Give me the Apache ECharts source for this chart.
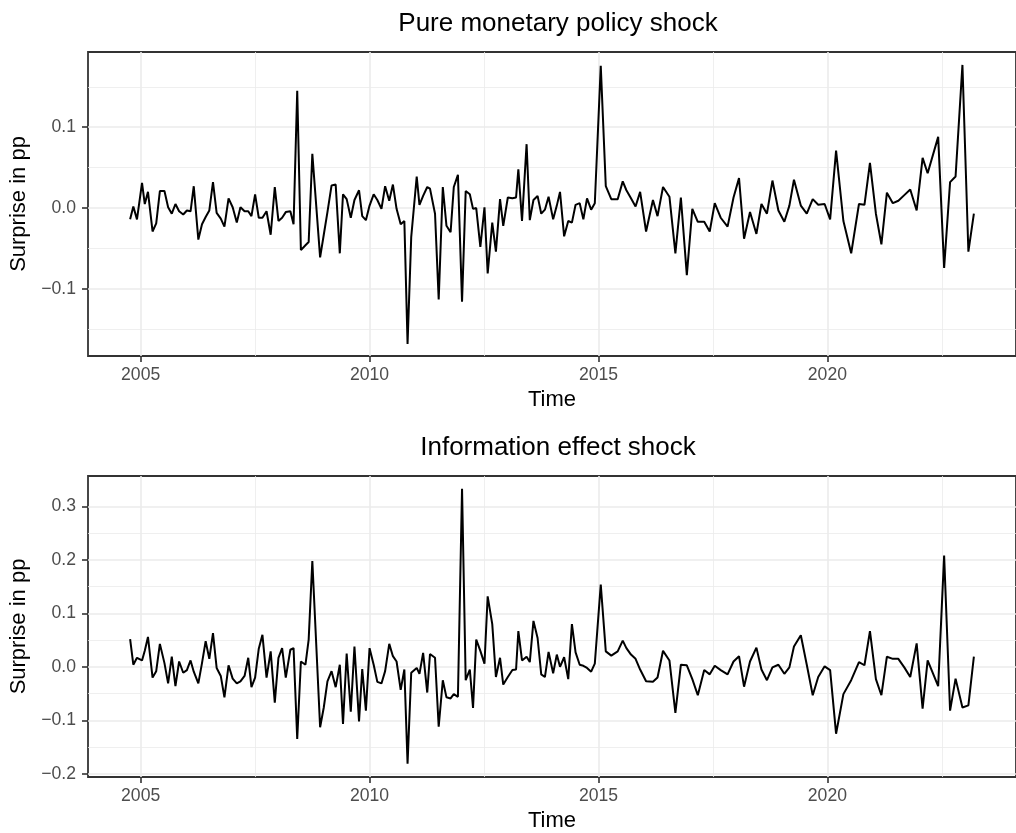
<!DOCTYPE html>
<html>
<head>
<meta charset="utf-8">
<title>Monetary policy shocks</title>
<script src="https://cdn.jsdelivr.net/npm/echarts@6/dist/echarts.min.js"></script>
<style>
  html, body { margin: 0; padding: 0; background: #fff; }
  #chart { width: 1016px; height: 833px; }
</style>
</head>
<body>
<div id="chart"></div>
<script>
// meeting dates as decimal years, shared by both panels
const dates = [
  2004.77, 2004.84, 2004.92, 2005.03, 2005.09, 2005.16, 2005.26, 2005.34, 2005.42, 2005.52, 2005.60, 2005.68,
  2005.76, 2005.84, 2005.93, 2006.01, 2006.09, 2006.16, 2006.26, 2006.34, 2006.42, 2006.50, 2006.58, 2006.66,
  2006.75, 2006.83, 2006.92, 2007.01, 2007.10, 2007.18, 2007.27, 2007.35, 2007.42, 2007.50, 2007.58, 2007.66,
  2007.75, 2007.84, 2007.93, 2008.01, 2008.09, 2008.17, 2008.27, 2008.34, 2008.42, 2008.50, 2008.60, 2008.67,
  2008.75, 2008.92, 2009.00, 2009.08, 2009.17, 2009.26, 2009.35, 2009.42, 2009.50, 2009.59, 2009.67, 2009.77,
  2009.84, 2009.92, 2010.00, 2010.09, 2010.17, 2010.26, 2010.34, 2010.43, 2010.51,
  2010.59, 2010.68, 2010.76, 2010.83, 2010.91,
  2011.03, 2011.09, 2011.17, 2011.26, 2011.32, 2011.43, 2011.51, 2011.60, 2011.68, 2011.77, 2011.84, 2011.93,
  2012.02, 2012.10, 2012.19, 2012.26, 2012.33, 2012.42, 2012.51, 2012.58, 2012.68, 2012.76, 2012.85, 2012.92,
  2013.02, 2013.12, 2013.20, 2013.25, 2013.33, 2013.43, 2013.50, 2013.58, 2013.67, 2013.75, 2013.83, 2013.91,
  2014.01, 2014.09, 2014.16, 2014.25, 2014.34, 2014.42, 2014.50, 2014.59, 2014.67, 2014.75, 2014.84, 2014.92,
  2015.05, 2015.16, 2015.28, 2015.42, 2015.53, 2015.61, 2015.71, 2015.81, 2015.91,
  2016.04, 2016.19, 2016.29, 2016.41, 2016.55, 2016.68, 2016.80, 2016.93,
  2017.05, 2017.17, 2017.31, 2017.43, 2017.54, 2017.67, 2017.82, 2017.95,
  2018.07, 2018.18, 2018.31, 2018.45, 2018.56, 2018.68, 2018.80, 2018.93,
  2019.06, 2019.17, 2019.27, 2019.42, 2019.55, 2019.68, 2019.80, 2019.94,
  2020.06, 2020.19, 2020.35, 2020.52, 2020.69, 2020.81, 2020.93,
  2021.06, 2021.18, 2021.30, 2021.43, 2021.55, 2021.68, 2021.81, 2021.95,
  2022.08, 2022.19, 2022.42, 2022.55, 2022.68, 2022.80, 2022.95,
  2023.08, 2023.20
]

const pureShock = [
  -0.014, 0.002, -0.014, 0.031, 0.005, 0.020, -0.029, -0.019, 0.021, 0.021, 0.001, -0.007,
  0.005, -0.004, -0.008, -0.003, -0.004, 0.027, -0.039, -0.020, -0.011, -0.003, 0.032, -0.006,
  -0.013, -0.023, 0.012, 0.001, -0.018, 0.001, -0.004, -0.004, -0.010, 0.017, -0.012, -0.012,
  -0.004, -0.033, 0.026, -0.016, -0.012, -0.005, -0.004, -0.020, 0.145, -0.052, -0.046, -0.042,
  0.067, -0.061, -0.033, -0.005, 0.028, 0.029, -0.056, 0.017, 0.011, -0.012, 0.010, 0.022,
  -0.010, -0.015, 0.003, 0.017, 0.010, -0.001, 0.027, 0.009, 0.029,
  -0.001, -0.020, -0.016, -0.168, -0.036,
  0.039, 0.004, 0.015, 0.026, 0.024, -0.007, -0.113, 0.026, -0.022, -0.030, 0.026, 0.041,
  -0.116, 0.021, 0.017, -0.001, 0.000, -0.048, 0.001, -0.081, -0.018, -0.054, 0.011, -0.022,
  0.013, 0.012, 0.013, 0.048, -0.016, 0.079, -0.015, 0.010, 0.015, -0.007, -0.002, 0.014,
  -0.014, 0.003, 0.020, -0.035, -0.016, -0.018, 0.004, 0.006, -0.014, 0.012, -0.002, 0.006,
  0.176, 0.027, 0.011, 0.011, 0.033, 0.022, 0.012, 0.002, 0.020,
  -0.029, 0.010, -0.010, 0.026, 0.014, -0.056, 0.013, -0.083,
  -0.001, -0.017, -0.017, -0.029, 0.006, -0.012, -0.023, 0.013,
  0.037, -0.038, -0.005, -0.032, 0.005, -0.007, 0.034, -0.003,
  -0.017, 0.003, 0.035, 0.003, -0.007, 0.011, 0.004, 0.005,
  -0.014, 0.071, -0.016, -0.056, 0.005, 0.004, 0.056,
  -0.007, -0.045, 0.019, 0.006, 0.009, 0.016, 0.023, -0.003,
  0.062, 0.043, 0.088, -0.074, 0.032, 0.039, 0.177,
  -0.054, -0.007
]

const infoShock = [
  0.052, 0.004, 0.017, 0.012, 0.030, 0.056, -0.020, -0.008, 0.043, 0.007, -0.031, 0.019,
  -0.036, 0.010, -0.011, -0.006, 0.012, -0.009, -0.031, 0.007, 0.048, 0.015, 0.063, -0.002,
  -0.017, -0.057, 0.003, -0.022, -0.031, -0.027, -0.017, 0.017, -0.038, -0.020, 0.034, 0.060,
  -0.020, 0.029, -0.067, 0.017, 0.035, -0.020, 0.032, 0.035, -0.135, 0.010, 0.004, 0.051,
  0.198, -0.113, -0.076, -0.027, -0.008, -0.038, 0.004, -0.107, 0.025, -0.084, 0.038, -0.102,
  -0.004, -0.082, 0.035, 0.004, -0.028, -0.031, -0.008, 0.043, 0.020,
  0.010, -0.043, -0.005, -0.181, -0.011,
  -0.002, -0.013, 0.026, -0.048, 0.024, 0.017, -0.112, -0.025, -0.057, -0.059, -0.051, -0.056,
  0.333, -0.025, -0.005, -0.077, 0.051, 0.030, 0.006, 0.132, 0.080, -0.019, 0.017, -0.033,
  -0.019, -0.006, -0.005, 0.067, 0.012, 0.019, 0.009, 0.086, 0.054, -0.014, -0.019, 0.028,
  -0.012, 0.023, 0.000, 0.018, -0.023, 0.080, 0.027, 0.004, 0.002, -0.002, -0.009, 0.006,
  0.154, 0.029, 0.021, 0.029, 0.049, 0.035, 0.023, 0.015, -0.005,
  -0.027, -0.028, -0.020, 0.030, 0.012, -0.086, 0.004, 0.003,
  -0.023, -0.053, -0.006, -0.014, 0.002, -0.006, -0.014, 0.010,
  0.020, -0.037, 0.010, 0.036, -0.005, -0.025, -0.001, 0.004,
  -0.013, -0.001, 0.038, 0.059, 0.004, -0.053, -0.019, 0.001,
  -0.006, -0.125, -0.051, -0.025, 0.009, 0.003, 0.067,
  -0.023, -0.053, 0.019, 0.015, 0.015, -0.001, -0.019, 0.044,
  -0.078, 0.012, -0.036, 0.208, -0.082, -0.022, -0.076,
  -0.072, 0.019
]

const xTicks = [2005, 2010, 2015, 2020]
const xMinorTicks = [2007.5, 2012.5, 2017.5, 2022.5]
const pureTicks = [-0.1, 0, 0.1]
const pureMinorTicks = [-0.15, -0.05, 0.05, 0.15]
const infoTicks = [-0.2, -0.1, 0, 0.1, 0.2, 0.3]
const infoMinorTicks = [-0.15, -0.05, 0.05, 0.15, 0.25]

const FONT = '"Liberation Sans", Arial, Helvetica, sans-serif'
const X_MIN = 2003.85
const X_MAX = 2024.12

const panels = [
  { title: 'Pure monetary policy shock', values: pureShock, top: 52, yMin: -0.183, yMax: 0.193, ticks: pureTicks, minor: pureMinorTicks },
  { title: 'Information effect shock', values: infoShock, top: 476, yMin: -0.206, yMax: 0.357, ticks: infoTicks, minor: infoMinorTicks }
]

const fmtY = v => v.toFixed(1).replace('-', '\u2212')

const grid = [], xAxis = [], yAxis = [], series = [], graphic = []

panels.forEach((p, i) => {
  grid.push({
    left: 88, right: -13, top: p.top, height: 304,
    show: true, borderColor: '#333', borderWidth: 1.8, backgroundColor: 'transparent'
  })

  xAxis.push({
    type: 'value', gridIndex: i, min: X_MIN, max: X_MAX, position: 'bottom',
    axisLine: { show: false, onZero: false },
    axisTick: { show: true, customValues: xTicks, length: 6, lineStyle: { color: '#333', width: 1.6 } },
    axisLabel: { customValues: xTicks, margin: 10, color: '#4d4d4d', fontSize: 17.6, fontFamily: FONT, formatter: v => String(v) },
    splitLine: { show: true, lineStyle: { color: '#ebebeb', width: 1.6 } },
    name: 'Time', nameLocation: 'middle', nameGap: 33,
    nameTextStyle: { color: '#000', fontSize: 22, fontFamily: FONT }
  })
  xAxis.push({
    type: 'value', gridIndex: i, min: X_MIN, max: X_MAX, position: 'bottom',
    axisLine: { show: false, onZero: false },
    axisTick: { show: false, customValues: xMinorTicks },
    axisLabel: { show: false },
    splitLine: { show: true, lineStyle: { color: '#ebebeb', width: 0.8 } }
  })

  yAxis.push({
    type: 'value', gridIndex: i, min: p.yMin, max: p.yMax, position: 'left',
    axisLine: { show: false, onZero: false },
    axisTick: { show: true, customValues: p.ticks, length: 6, lineStyle: { color: '#333', width: 1.6 } },
    axisLabel: { customValues: p.ticks, margin: 12, color: '#4d4d4d', fontSize: 17.6, fontFamily: FONT, formatter: fmtY },
    splitLine: { show: true, lineStyle: { color: '#ebebeb', width: 1.6 } },
    name: 'Surprise in pp', nameLocation: 'middle', nameGap: 54, nameRotate: 90,
    nameTextStyle: { color: '#000', fontSize: 22, fontFamily: FONT }
  })
  yAxis.push({
    type: 'value', gridIndex: i, min: p.yMin, max: p.yMax, position: 'left',
    axisLine: { show: false, onZero: false },
    axisTick: { show: false, customValues: p.minor },
    axisLabel: { show: false },
    splitLine: { show: true, lineStyle: { color: '#ebebeb', width: 0.8 } }
  })

  series.push({
    type: 'line', xAxisIndex: 2 * i, yAxisIndex: 2 * i,
    data: dates.map((d, k) => [d, p.values[k]]),
    showSymbol: false, symbol: 'none', silent: true,
    lineStyle: { color: '#000', width: 2 }, itemStyle: { color: '#000' }
  })

  graphic.push({
    type: 'text', x: 558, y: p.top - 28.5,
    style: {
      text: p.title, font: '26px ' + FONT, fill: '#000',
      align: 'center', verticalAlign: 'middle', textAlign: 'center', textVerticalAlign: 'middle'
    }
  })
})

const chart = echarts.init(document.getElementById('chart'))
chart.setOption({
  animation: false,
  backgroundColor: '#fff',
  grid, xAxis, yAxis, series, graphic
})
</script>
</body>
</html>
